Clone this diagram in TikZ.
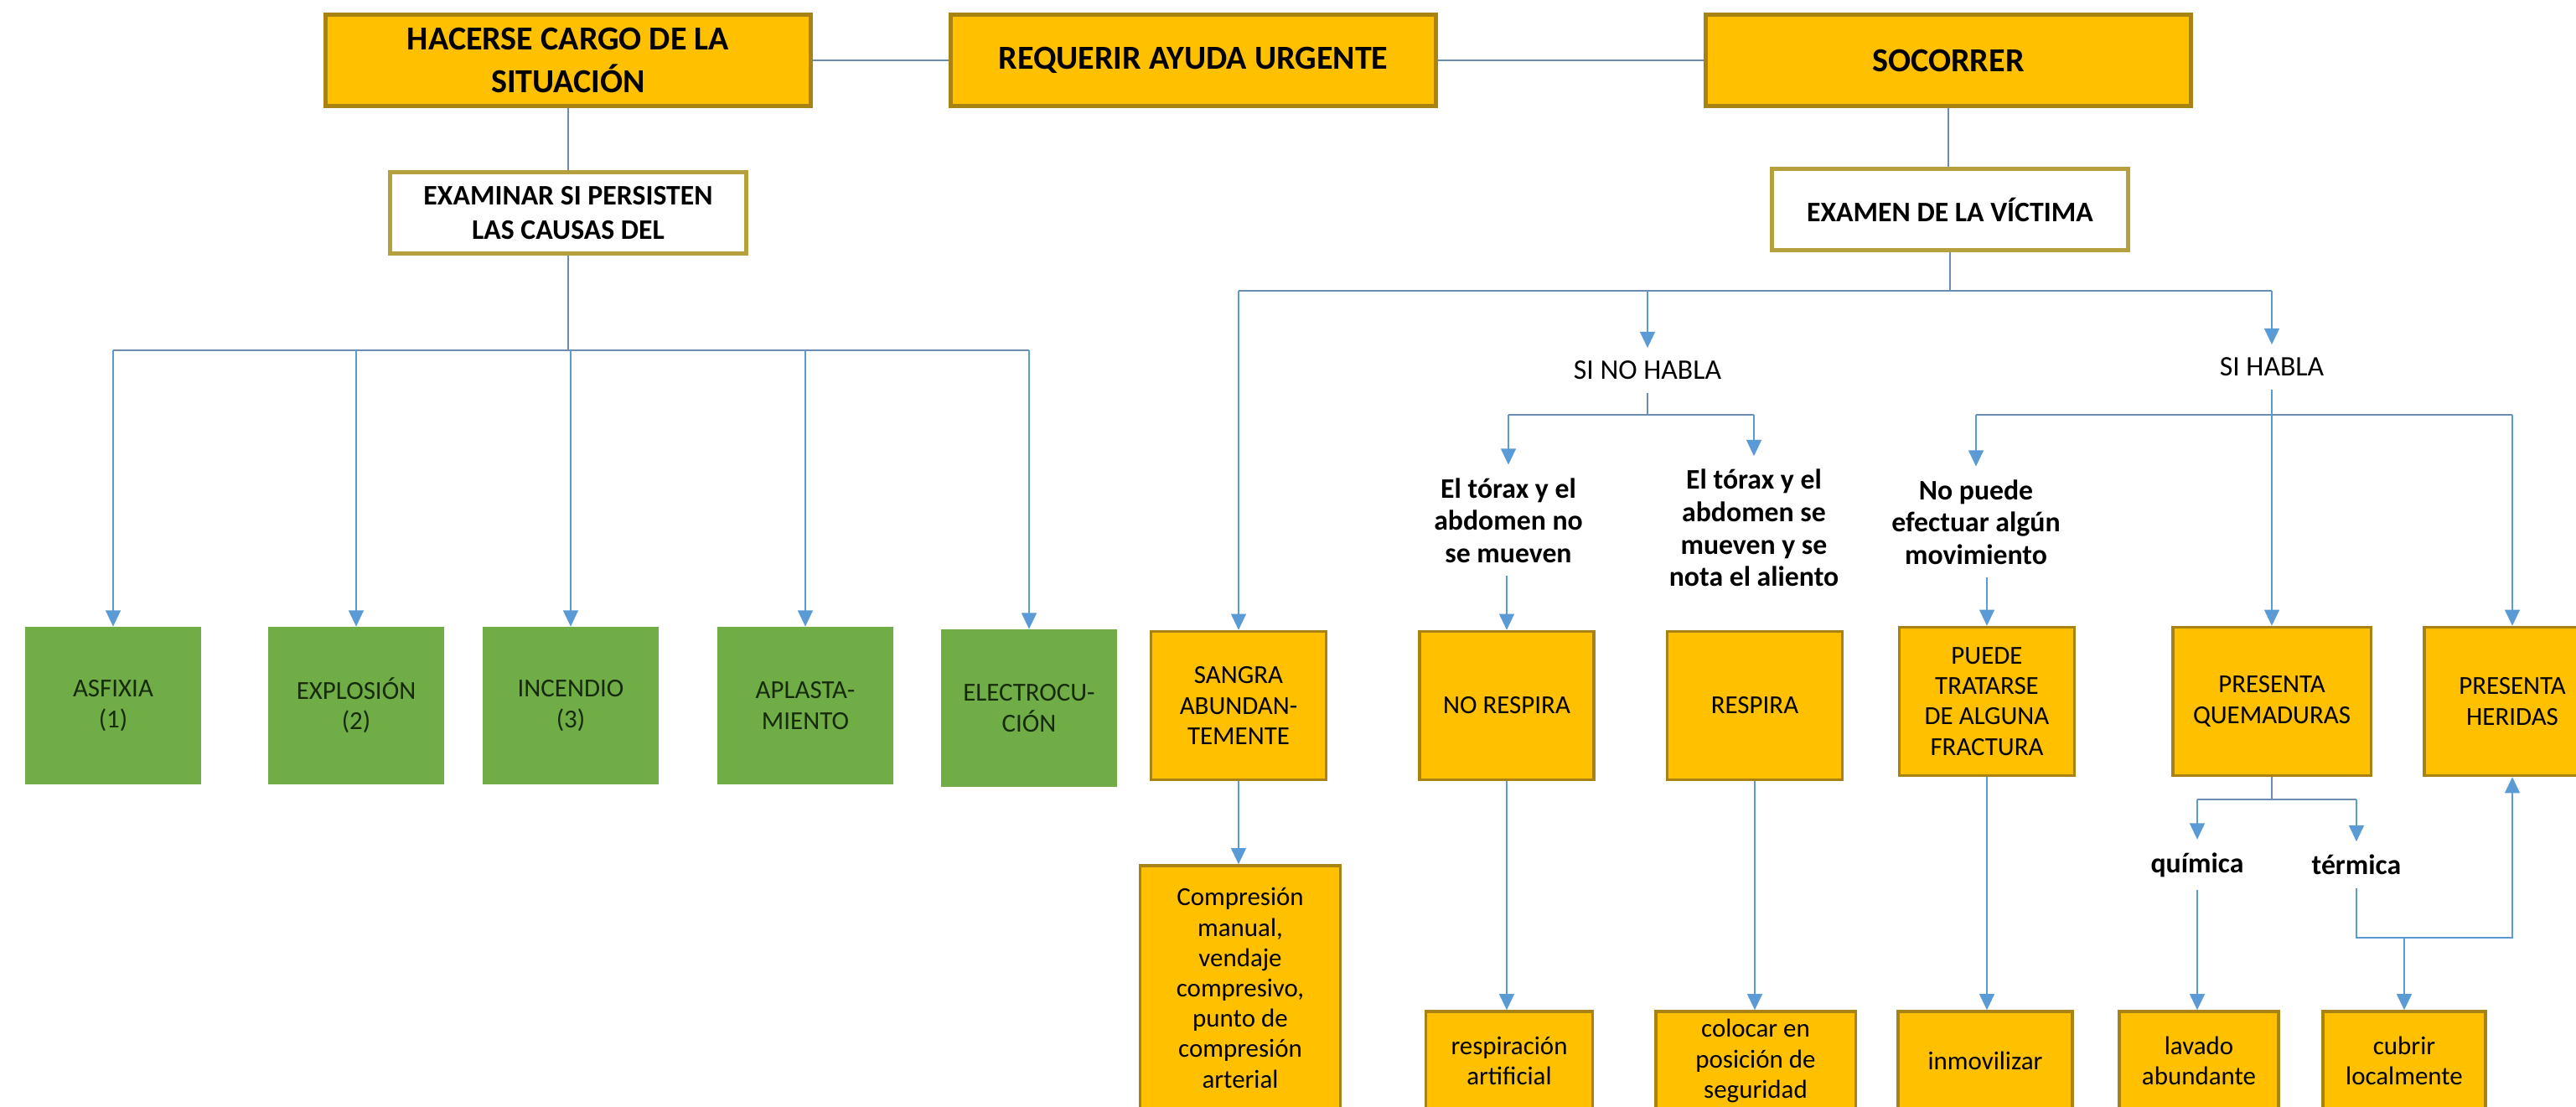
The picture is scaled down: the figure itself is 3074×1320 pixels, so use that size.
\documentclass[tikz,border=0pt]{standalone}
\usepackage{fontspec}
\setmainfont{Carlito}
\usetikzlibrary{arrows.meta}

\definecolor{amarillo}{RGB}{255,192,0}
\definecolor{borde}{RGB}{168,130,18}
\definecolor{bordeclaro}{RGB}{182,160,62}
\definecolor{verde}{RGB}{112,173,71}
\definecolor{textoverde}{RGB}{22,42,12}
\definecolor{azul}{RGB}{91,155,213}
\definecolor{linea}{RGB}{108,140,178}

\begin{document}
\begin{tikzpicture}[x=0.01cm, y=-0.01cm,
    cabecera/.style={draw=borde, line width=1.3pt, fill=amarillo, align=center, inner sep=0pt,
        minimum width=5.79cm, minimum height=1.09cm, font=\fontsize{11.4}{14.4}\selectfont\bfseries},
    revision/.style={draw=bordeclaro, line width=1.3pt, fill=white, align=center, inner sep=0pt,
        minimum width=4.25cm, minimum height=0.97cm, font=\fontsize{9.6}{11.6}\selectfont\bfseries},
    causa/.style={fill=verde, align=center, inner sep=0pt, text=textoverde,
        minimum width=2.1cm, minimum height=1.87cm, font=\fontsize{8.8}{10.3}\selectfont},
    caja/.style={draw=borde, line width=0.9pt, fill=amarillo, align=center, inner sep=0pt,
        minimum height=1.77cm, font=\fontsize{8.8}{10.3}\selectfont},
    accion/.style={caja, minimum height=1.18cm},
    etiqueta/.style={align=center, inner sep=0.15cm, font=\fontsize{9.6}{11}\selectfont},
    negrita/.style={etiqueta, font=\fontsize{9.6}{11}\selectfont\bfseries},
    enlace/.style={draw=linea, line width=0.8pt},
    flecha/.style={draw=azul, line width=0.8pt, -{Triangle[length=5.5pt,width=5pt]}},
]
\useasboundingbox (0,0) rectangle (3074,1320);
\clip (0,0) rectangle (3074,1320);

% fila superior
\node[cabecera] at (678,72) (hacer) {HACERSE CARGO DE LA\\SITUACIÓN};
\node[cabecera] at (1424,72) (requerir) {REQUERIR AYUDA URGENTE};
\node[cabecera] at (2325,72) (socorrer) {SOCORRER};
\draw[enlace] (hacer) -- (requerir);
\draw[enlace] (requerir) -- (socorrer);

% causas
\node[revision] at (678,254) (causas) {EXAMINAR SI PERSISTEN\\LAS CAUSAS DEL};
\node[causa] at (135,842) (asfixia) {ASFIXIA\\(1)};
\node[causa] at (425,842) (explosion) {EXPLOSIÓN\\(2)};
\node[causa] at (681,842) (incendio) {INCENDIO\\(3)};
\node[causa] at (961,842) (aplast) {APLASTA-\\MIENTO};
\node[causa] at (1228,845) (electro) {ELECTROCU-\\CIÓN};
\coordinate (lbar) at (0,418);
\draw[enlace] (hacer) -- (causas);
\draw[enlace] (causas) -- (causas |- lbar);
\draw[enlace] (lbar -| asfixia) -- (lbar -| electro);
\foreach \c in {asfixia,explosion,incendio,aplast,electro}
    \draw[flecha] (lbar -| \c) -- (\c);

% examen de la victima
\node[revision] at (2327,250) (victima) {EXAMEN DE LA VÍCTIMA};
\node[etiqueta] at (1966,442) (nohabla) {SI NO HABLA};
\node[etiqueta] at (2711,438) (habla) {SI HABLA};
\node[negrita] at (1800,621) (torax1) {El tórax y el\\abdomen no\\se mueven};
\node[negrita] at (2093,630) (torax2) {El tórax y el\\abdomen se\\mueven y se\\nota el aliento};
\node[negrita] at (2358,623) (nomov) {No puede\\efectuar algún\\movimiento};

\node[caja, minimum width=2.09cm] at (1478,842) (sangra) {SANGRA\\ABUNDAN-\\TEMENTE};
\node[caja, minimum width=2.08cm] at (1798,842) (norespira) {NO RESPIRA};
\node[caja, minimum width=2.09cm] at (2094,842) (respira) {RESPIRA};
\node[caja, minimum width=2.09cm] at (2371,837) (fractura) {PUEDE\\TRATARSE\\DE ALGUNA\\FRACTURA};
\node[caja, minimum width=2.36cm] at (2711,837) (quemad) {PRESENTA\\QUEMADURAS};
\node[caja, minimum width=2.10cm] at (2998,837) (heridas) {PRESENTA\\HERIDAS};

\node[negrita] at (2622,1032) (quimica) {química};
\node[negrita] at (2812,1032) (termica) {térmica};

\node[accion, minimum width=2.39cm, minimum height=2.92cm] at (1480,1179) (compresion)
    {Compresión\\manual,\\vendaje\\compresivo,\\punto de\\compresión\\arterial};
\node[accion, minimum width=1.99cm] at (1801,1266) (artificial) {respiración\\artificial};
\node[accion, minimum width=2.38cm] at (2095,1266) (colocar) {colocar en\\posición de\\seguridad};
\node[accion, minimum width=2.08cm] at (2369,1266) (inmov) {inmovilizar};
\node[accion, minimum width=1.90cm] at (2624,1266) (lavado) {lavado\\abundante};
\node[accion, minimum width=1.94cm] at (2869,1266) (cubrir) {cubrir\\localmente};

\coordinate (rbar) at (0,347);
\draw[enlace] (socorrer.south) -- (socorrer.south |- victima.north);
\draw[enlace] (victima) -- (victima |- rbar);
\draw[enlace] (rbar -| sangra) -- (rbar -| habla);
\foreach \c in {sangra,nohabla,habla}
    \draw[flecha] (rbar -| \c) -- (\c);

% habla / no habla
\coordinate (sbar) at (0,495);
\draw[enlace] (nohabla) -- (nohabla |- sbar);
\draw[enlace] (sbar -| torax1) -- (sbar -| torax2);
\draw[enlace] (sbar -| nomov) -- (sbar -| heridas);
\foreach \c in {torax1,torax2,nomov,heridas}
    \draw[flecha] (sbar -| \c) -- (\c);
\draw[flecha] (habla) -- (quemad);
\draw[flecha] (torax1.south -| norespira) -- (norespira);
\draw[flecha] (nomov.south -| fractura) -- (fractura);

\foreach \a/\b in {sangra/compresion,norespira/artificial,respira/colocar,fractura/inmov}
    \draw[flecha] (\a.south) -- (\a.south |- \b.north);

% quemaduras
\coordinate (qbar) at (0,954);
\coordinate (tbar) at (0,1119);
\draw[enlace] (quemad.south) -- (quemad.south |- qbar);
\draw[enlace] (qbar -| quimica) -- (qbar -| termica);
\draw[flecha] (qbar -| quimica) -- (quimica);
\draw[flecha] (qbar -| termica) -- (termica);
\draw[flecha] (quimica.south) -- (quimica.south |- lavado.north);
\draw[flecha] (termica.south) |- (tbar -| heridas) -- (heridas.south);
\draw[flecha] (tbar -| cubrir) -- (cubrir);

\end{tikzpicture}
\end{document}
